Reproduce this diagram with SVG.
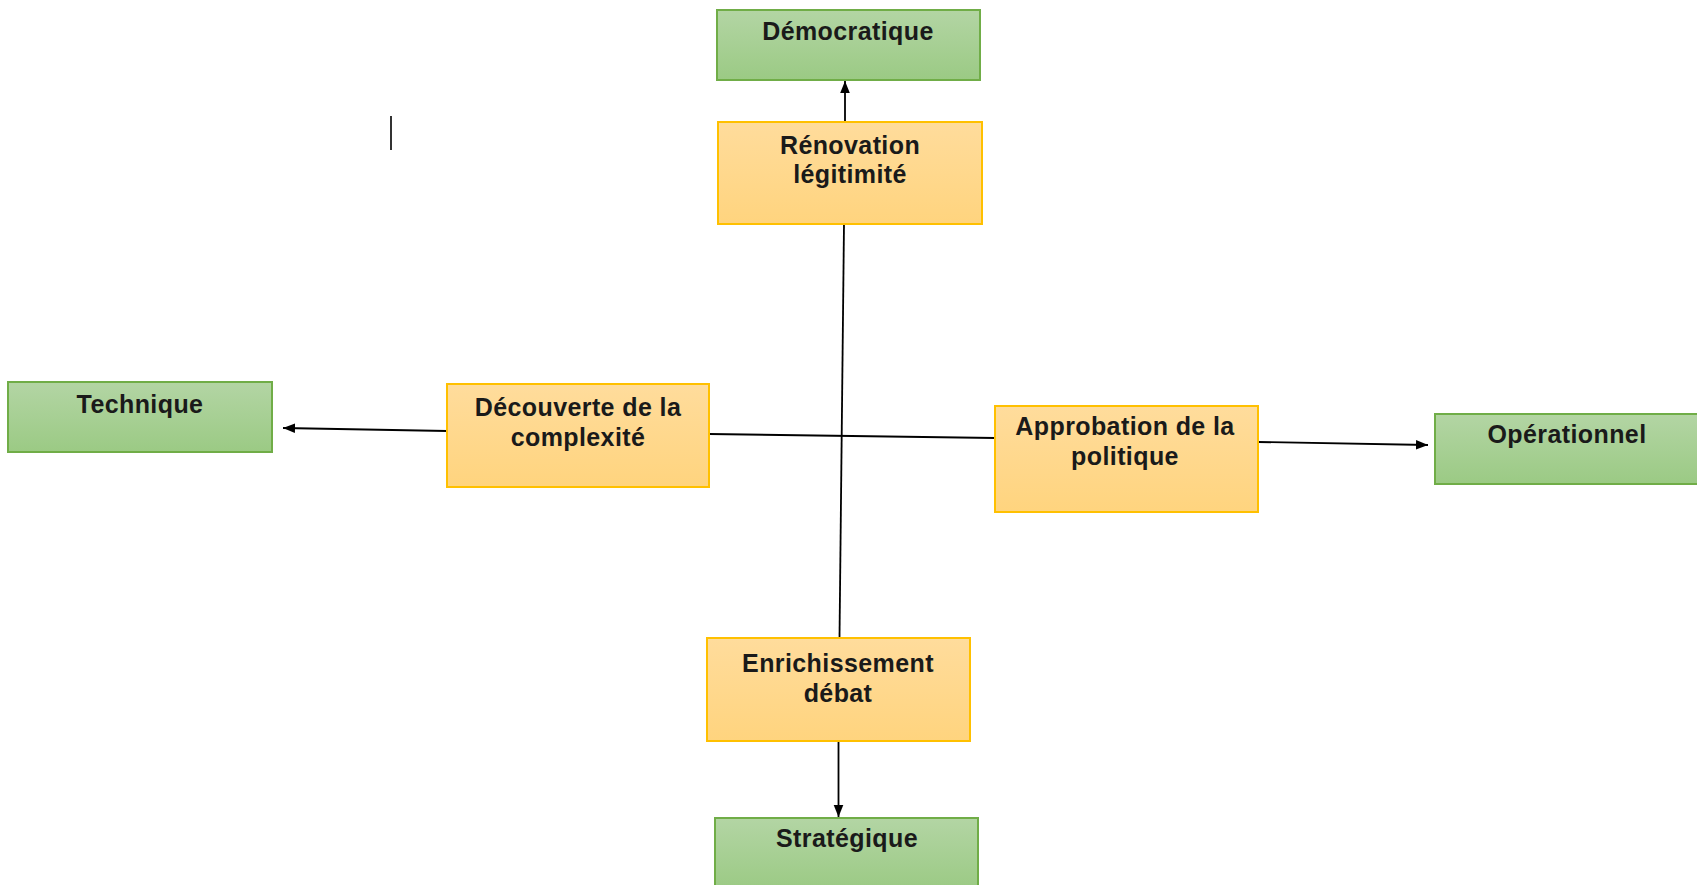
<svg xmlns="http://www.w3.org/2000/svg" width="1697" height="885" viewBox="0 0 1697 885">
<defs>
<linearGradient id="gG" x1="0" y1="0" x2="0" y2="1"><stop offset="0" stop-color="#b3d5a4"/><stop offset="1" stop-color="#9bca84"/></linearGradient>
<linearGradient id="gO" x1="0" y1="0" x2="0" y2="1"><stop offset="0" stop-color="#ffdc9c"/><stop offset="1" stop-color="#ffd47e"/></linearGradient>
<marker id="ah" viewBox="0 0 10 10" refX="10" refY="5" markerWidth="12" markerHeight="12" markerUnits="userSpaceOnUse" orient="auto"><path d="M0,1 L10,5 L0,9 Z" fill="#000"/></marker>
<style>
.g{fill:url(#gG);stroke:#70ad47;stroke-width:2}
.o{fill:url(#gO);stroke:#ffc000;stroke-width:2}
.t{font-family:"Liberation Sans",Arial,sans-serif;font-weight:bold;font-size:25px;fill:#1a1a1a;text-anchor:middle;letter-spacing:0.4px}
.c{stroke:#000;stroke-width:1.8;fill:none}
</style>
</defs>
<g id="connectors">
<line class="c" x1="845" y1="122" x2="845" y2="81" marker-end="url(#ah)"/>
<line class="c" x1="844" y1="224" x2="839.5" y2="638"/>
<line class="c" x1="709" y1="434" x2="995" y2="438"/>
<line class="c" x1="447" y1="431" x2="283" y2="428" marker-end="url(#ah)"/>
<line class="c" x1="1258" y1="442" x2="1428" y2="445" marker-end="url(#ah)"/>
<line class="c" x1="838.5" y1="741" x2="838.5" y2="817" marker-end="url(#ah)"/>
</g>
<g id="democratique"><rect class="g" x="717" y="10" width="263" height="70"/><text class="t" x="848" y="40">Démocratique</text></g>
<g id="technique"><rect class="g" x="8" y="382" width="264" height="70"/><text class="t" x="140" y="413">Technique</text></g>
<g id="operationnel"><rect class="g" x="1435" y="414" width="263" height="70"/><text class="t" x="1567" y="443">Opérationnel</text></g>
<g id="strategique"><rect class="g" x="715" y="818" width="263" height="72"/><text class="t" x="847" y="847">Stratégique</text></g>
<g id="renovation"><rect class="o" x="718" y="122" width="264" height="102"/><text class="t" x="850" y="154">Rénovation<tspan x="850" dy="29">légitimité</tspan></text></g>
<g id="decouverte"><rect class="o" x="447" y="384" width="262" height="103"/><text class="t" x="578" y="416">Découverte de la<tspan x="578" dy="30">complexité</tspan></text></g>
<g id="approbation"><rect class="o" x="995" y="406" width="263" height="106"/><text class="t" x="1125" y="435">Approbation de la<tspan x="1125" dy="30">politique</tspan></text></g>
<g id="enrichissement"><rect class="o" x="707" y="638" width="263" height="103"/><text class="t" x="838" y="672">Enrichissement<tspan x="838" dy="30">débat</tspan></text></g>
<line x1="391" y1="116" x2="391" y2="150" stroke="#333" stroke-width="2"/>
</svg>
